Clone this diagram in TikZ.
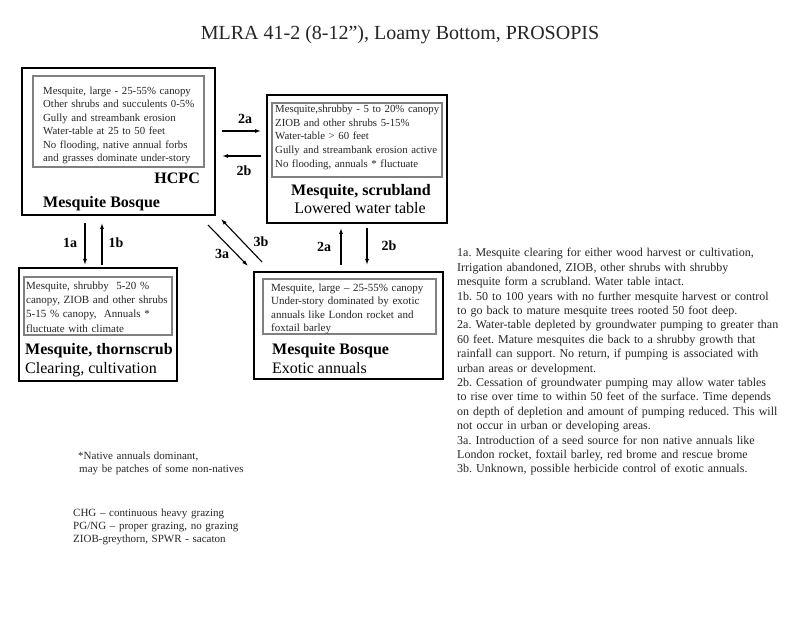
\documentclass[tikz,border=0pt]{standalone}
\usepackage{fontspec}
\setmainfont{Liberation Serif}
\usetikzlibrary{calc,arrows.meta}
\frenchspacing
\tikzset{
	state/.style={draw, line width=2.4pt, inner sep=0pt, outer sep=0pt},
	detail/.style={draw=black!50, line width=1.1pt, inner sep=0pt, outer sep=0pt},
	info/.style={anchor=base west, inner sep=0pt, text width=#1, align=left, text=black!85, font=\fontsize{11}{13.6}\selectfont},
	head/.style={inner sep=0pt, font=\fontsize{16}{19}\selectfont\bfseries},
	sub/.style={inner sep=0pt, font=\fontsize{16}{19}\selectfont},
	trans/.style={-{Latex[length=6pt,width=4pt]}, line width=1.1pt},
	tlabel/.style={inner sep=0pt, font=\fontsize{14}{16}\selectfont\bfseries},
	note/.style={anchor=base west, inner sep=0pt, text width=#1, align=left, text=black!85}
}

\begin{document}
\begin{tikzpicture}[x=1pt, y=-1pt]
		%%%%% START %%%%%
		\fill[white] (0,0) rectangle (800,617);
		\useasboundingbox (0,0) rectangle (800,617);
		
		\node[text=black!85] (title) at (400,35) {\fontsize{20}{24}\selectfont MLRA 41-2 (8-12”), Loamy Bottom, PROSOPIS};
		
		% HCPC
		\node[state, minimum width=193pt, minimum height=147pt] (hcpc) at (118.5,141.5) {};
		\node[detail, minimum width=171pt, minimum height=91pt] (hcpcin) at (118.5,121.5) {};
		\node[info=165pt, font=\fontsize{10.8}{13.4}\selectfont] (hcpctxt) at (43,94.5) {Mesquite, large - 25-55\% canopy\\Other shrubs and succulents 0-5\%\\Gully and streambank erosion\\Water-table at 25 to 50 feet\\No flooding, native annual forbs\\and grasses dominate under-story};
		\node[head, anchor=base east] (hcpcname) at (200,183.5) {HCPC};
		\node[head, anchor=base west] (hcpchead) at (43,207.5) {Mesquite Bosque};
		
		% scrubland
		\node[state, minimum width=180pt, minimum height=128pt] (scrub) at (357,159) {};
		\node[detail, minimum width=170pt, minimum height=74pt] (scrubin) at (357,140) {};
		\node[info=170pt, font=\fontsize{10.8}{13.75}\selectfont] (scrubtxt) at (275,112.5) {Mesquite,shrubby - 5 to 20\% canopy\\ZIOB and other shrubs 5-15\%\\Water-table > 60 feet\\Gully and streambank erosion active\\No flooding, annuals * fluctuate};
		\node[head, anchor=base] (scrubhead) at (361,195.5) {Mesquite, scrubland};
		\node[sub, anchor=base] (scrubsub) at (360,213.5) {Lowered water table};
		
		% thornscrub
		\node[state, minimum width=158pt, minimum height=113pt] (thorn) at (98,324.5) {};
		\node[detail, minimum width=148pt, minimum height=58pt] (thornin) at (98,306) {};
		\node[info=150pt, font=\fontsize{11}{14.2}\selectfont] (thorntxt) at (26,289.5) {Mesquite, shrubby\ \ 5-20 \%\\canopy, ZIOB and other shrubs\\5-15 \% canopy,\ \ Annuals *\\fluctuate with climate};
		\node[head, anchor=base west] (thornhead) at (25,354.5) {Mesquite, thornscrub};
		\node[sub, anchor=base west] (thornsub) at (25,373.5) {Clearing, cultivation};
		
		% exotic annuals
		\node[state, minimum width=189pt, minimum height=107pt] (exotic) at (348.5,325.5) {};
		\node[detail, minimum width=173pt, minimum height=55pt] (exoticin) at (349.5,306.5) {};
		\node[info=165pt, font=\fontsize{11}{13.3}\selectfont] (exotictxt) at (271,291.5) {Mesquite, large – 25-55\% canopy\\Under-story dominated by exotic\\annuals like London rocket and\\foxtail barley};
		\node[head, anchor=base west] (exotichead) at (272,354.5) {Mesquite Bosque};
		\node[sub, anchor=base west] (exoticsub) at (272,373.5) {Exotic annuals};
		
		% transitions
		\draw[trans] ($(hcpc.east)+(7,-10.5)$) -- ($(scrub.west)+(-6,-28)$);
		\draw[trans] ($(scrub.west)+(-6,-3)$) -- ($(hcpc.east)+(7,14.5)$);
		\draw[trans] ($(hcpc.south)+(-33.5,8)$) -- ($(thorn.north)+(-13,-3)$);
		\draw[trans] ($(thorn.north)+(4,-3)$) -- ($(hcpc.south)+(-16.5,8)$);
		\draw[trans] ($(hcpc.south east)+(-7,10)$) -- ($(exotic.north west)+(-6,-6)$);
		\draw[trans] ($(exotic.north west)+(8,-10)$) -- ($(hcpc.south east)+(6,4)$);
		\draw[trans] ($(exotic.north)+(-7.5,-7)$) -- ($(scrub.south)+(-16,5)$);
		\draw[trans] ($(scrub.south)+(10,5)$) -- ($(exotic.north)+(18.5,-7)$);
		
		\node[tlabel] (l2a) at (245,119) {2a};
		\node[tlabel] (l2b) at (244,171) {2b};
		\node[tlabel] (l1a) at (70,243) {1a};
		\node[tlabel] (l1b) at (116,243) {1b};
		\node[tlabel] (l3a) at (222,254) {3a};
		\node[tlabel] (l3b) at (261,242) {3b};
		\node[tlabel] (l2up) at (324,247) {2a};
		\node[tlabel] (l2down) at (389,246) {2b};
		
		% notes
		\node[note=340pt, font=\fontsize{12}{14.4}\selectfont] (trnotes) at (457,257) {1a. Mesquite clearing for either wood harvest or cultivation,\\Irrigation abandoned, ZIOB, other shrubs with shrubby\\mesquite form a scrubland. Water table intact.\\1b. 50 to 100 years with no further mesquite harvest or control\\to go back to mature mesquite trees rooted 50 foot deep.\\2a. Water-table depleted by groundwater pumping to greater than\\60 feet. Mature mesquites die back to a shrubby growth that\\rainfall can support. No return, if pumping is associated with\\urban areas or development.\\2b. Cessation of groundwater pumping may allow water tables\\to rise over time to within 50 feet of the surface. Time depends\\on depth of depletion and amount of pumping reduced. This will\\not occur in urban or developing areas.\\3a. Introduction of a seed source for non native annuals like\\London rocket, foxtail barley, red brome and rescue brome\\3b. Unknown, possible herbicide control of exotic annuals.};
		
		\node[note=200pt, font=\fontsize{11}{13}\selectfont] (native) at (78,459.5) {*Native annuals dominant,\\\hspace*{1pt}may be patches of some non-natives};
		\node[note=200pt, font=\fontsize{11}{13}\selectfont] (abbrev) at (73,516.5) {CHG – continuous heavy grazing\\PG/NG – proper grazing, no grazing\\ZIOB-greythorn, SPWR - sacaton};
		%%%%% END %%%%%
	\end{tikzpicture}
\end{document}
